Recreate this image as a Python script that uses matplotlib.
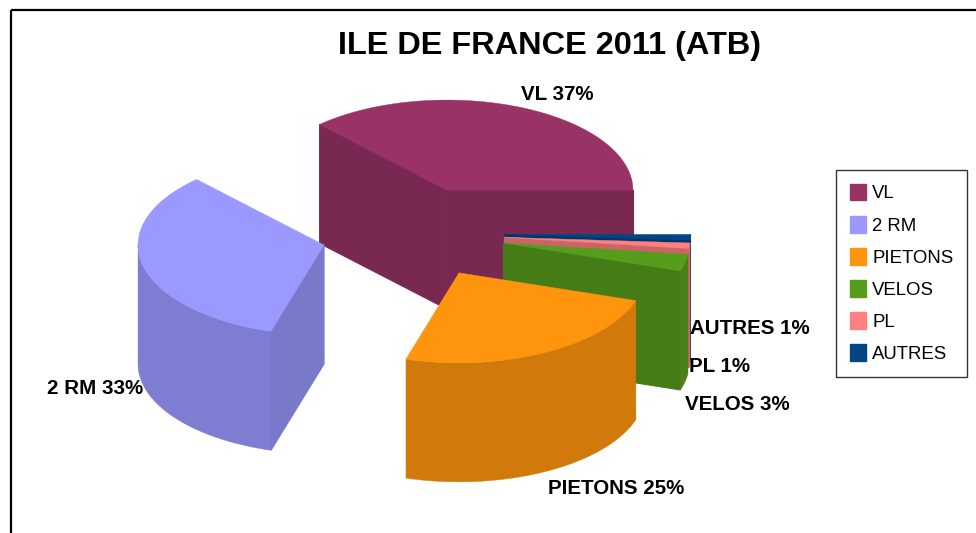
#!/usr/bin/env python3
# -*- coding: utf-8 -*-
import numpy as np
import matplotlib
matplotlib.use('Agg')
import matplotlib.pyplot as plt
from matplotlib.colors import to_rgb
from matplotlib.patches import Patch, Polygon, Rectangle

plt.rcParams['font.family'] = ['Liberation Sans', 'DejaVu Sans']

#==============================================================================
# Data
#==============================================================================
categories = ['VL', '2 RM', 'PIETONS', 'VELOS', 'PL', 'AUTRES']
values = [37, 33.4, 24.6, 3, 1, 1]
point_labels = ['VL 37%', '2 RM 33%', 'PIETONS 25%', 'VELOS 3%', 'PL 1%', 'AUTRES 1%']
title = 'ILE DE FRANCE 2011 (ATB)'

#==============================================================================
# Styles and layout (pixel units of the picture)
#==============================================================================
colors = ['#993366', '#9999ff', '#ff950e', '#579d1c', '#ff8080', '#004586']
explode_x = [0.50, 0.475, 0.566, 0.515, 0.51, 0.51]
explode_y = [0.52, 0.58, 0.50, 0.515, 0.51, 0.51]
label_pos = [(521, 95), (47, 388), (548, 489), (685, 404), (689, 367), (690, 329)]
draw_order = [0, 1, 5, 4, 3, 2]

centre_x, centre_y = 410, 233
radius_x, radius_y = 186, 90
depth = 119


def shade(color, factor):
    return tuple(c * factor for c in to_rgb(color))


def rim(theta, cx, cy):
    return cx + radius_x * np.cos(theta), cy - radius_y * np.sin(theta)


def draw_slice(ax, start, end, ex, ey, color):
    mid = (start + end) / 2
    cx = centre_x + ex * radius_x * np.cos(mid)
    cy = centre_y - ey * radius_y * np.sin(mid)
    wall = shade(color, 0.82)
    cut = shade(color, 0.79)

    # cut faces
    for theta, visible in ((start, np.cos(start) > 0), (end, np.cos(end) < 0)):
        if visible:
            x, y = rim(theta, cx, cy)
            ax.add_patch(Polygon([(cx, cy), (x, y), (x, y + depth), (cx, cy + depth)],
                                 closed=True, fc=cut, ec=cut, lw=0.8))

    # outer wall, only the part turned to the viewer
    lo, hi = max(start, np.pi), min(end, 2 * np.pi)
    if hi > lo:
        th = np.linspace(lo, hi, 80)
        x, y = rim(th, cx, cy)
        pts = np.r_[np.c_[x, y], np.c_[x, y + depth][::-1]]
        ax.add_patch(Polygon(pts, closed=True, fc=wall, ec=wall, lw=0.3))

    # top
    th = np.linspace(start, end, 120)
    x, y = rim(th, cx, cy)
    pts = np.r_[[(cx, cy)], np.c_[x, y]]
    ax.add_patch(Polygon(pts, closed=True, fc=color, ec=color, lw=0.3))


fig = plt.figure(figsize=(9.76, 5.33), dpi=100)
ax = fig.add_axes([0, 0, 1, 1])
ax.set_xlim(0, 976)
ax.set_ylim(533, 0)
ax.axis('off')

# chart frame
ax.add_patch(Rectangle((11, 10), 975, 540, fc='none', ec='black', lw=1.6))

edges = np.r_[0, np.cumsum(values)] / float(np.sum(values)) * 2 * np.pi
for i in draw_order:
    draw_slice(ax, edges[i], edges[i + 1], explode_x[i], explode_y[i], colors[i])

for txt, (x, y) in zip(point_labels, label_pos):
    ax.text(x, y, txt, fontsize=14.8, fontweight='bold', ha='left', va='center', color='black')

ax.text(549, 46, title, fontsize=23.4, fontweight='bold', ha='center', va='center', color='black')

handles = [Patch(fc=c, ec=c, label=n) for c, n in zip(colors, categories)]
leg = ax.legend(handles=handles, loc='upper left', bbox_to_anchor=(836 / 976, 1 - 170 / 533),
                bbox_transform=fig.transFigure, fontsize=13.4, frameon=True, fancybox=False,
                edgecolor='#333333', framealpha=1, borderaxespad=0, borderpad=0.74,
                handlelength=0.85, handleheight=1.0, handletextpad=0.35, labelspacing=0.72)
leg.get_frame().set_linewidth(1.0)

plt.savefig('out.png', dpi=100)
